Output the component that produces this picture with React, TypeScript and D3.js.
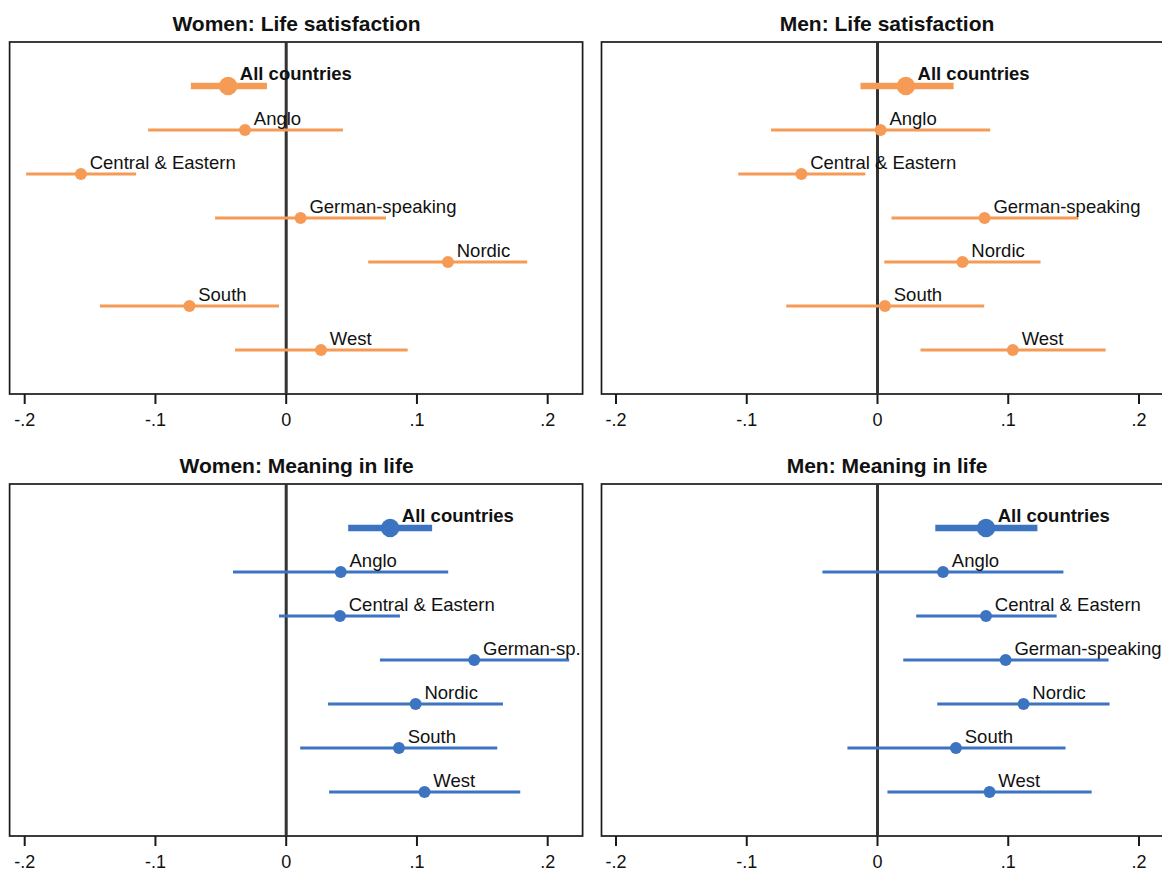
import React from "react";
import * as d3 from "d3";

const regions = ["All countries", "Anglo", "Central & Eastern", "German-speaking", "Nordic", "South", "West"];
const regionsShortGerman = ["All countries", "Anglo", "Central & Eastern", "German-sp.", "Nordic", "South", "West"];

const womenLifeSatEst = [-0.0444, -0.0315, -0.157, 0.011, 0.1237, -0.074, 0.0266];
const womenLifeSatLo = [-0.0729, -0.1056, -0.1989, -0.0544, 0.0627, -0.1425, -0.0391];
const womenLifeSatHi = [-0.0147, 0.0434, -0.1148, 0.0763, 0.1843, -0.0055, 0.0929];

const menLifeSatEst = [0.0217, 0.0024, -0.0582, 0.0819, 0.065, 0.0057, 0.1035];
const menLifeSatLo = [-0.013, -0.0814, -0.1065, 0.0107, 0.0052, -0.0698, 0.0329];
const menLifeSatHi = [0.0582, 0.0862, -0.0093, 0.1537, 0.1247, 0.0816, 0.1745];

const womenMeaningEst = [0.0795, 0.0417, 0.0411, 0.1438, 0.099, 0.0862, 0.1058];
const womenMeaningLo = [0.0474, -0.0407, -0.0055, 0.0717, 0.032, 0.0107, 0.0328];
const womenMeaningHi = [0.1116, 0.1239, 0.087, 0.2164, 0.1658, 0.1614, 0.179];

const menMeaningEst = [0.083, 0.0501, 0.083, 0.098, 0.1117, 0.06, 0.0857];
const menMeaningLo = [0.0442, -0.0421, 0.0296, 0.0197, 0.0457, -0.023, 0.0076];
const menMeaningHi = [0.1223, 0.1422, 0.137, 0.1767, 0.1775, 0.1438, 0.1638];

const xTicks = [-0.2, -0.1, 0, 0.1, 0.2];
const xTickLabels = ["-.2", "-.1", "0", ".1", ".2"];

const ORANGE = "#F69B56";
const BLUE = "#3D74C2";
const FONT = "'Liberation Sans', Arial, Helvetica, sans-serif";

type Panel = {
  title: string;
  labels: string[];
  est: number[];
  lo: number[];
  hi: number[];
  color: string;
  col: number;
  row: number;
};

const panels: Panel[] = [
  { title: "Women: Life satisfaction", labels: regions, est: womenLifeSatEst, lo: womenLifeSatLo, hi: womenLifeSatHi, color: ORANGE, col: 0, row: 0 },
  { title: "Men: Life satisfaction", labels: regions, est: menLifeSatEst, lo: menLifeSatLo, hi: menLifeSatHi, color: ORANGE, col: 1, row: 0 },
  { title: "Women: Meaning in life", labels: regionsShortGerman, est: womenMeaningEst, lo: womenMeaningLo, hi: womenMeaningHi, color: BLUE, col: 0, row: 1 },
  { title: "Men: Meaning in life", labels: regions, est: menMeaningEst, lo: menMeaningLo, hi: menMeaningHi, color: BLUE, col: 1, row: 1 },
];

// layout
const colLayout = [
  { frameL: 9.6, frameR: 582.6, xMinus: 24.7, xPlus: 547.7, titleX: 296.5 },
  { frameL: 601.5, frameR: 1174, xMinus: 616, xPlus: 1139, titleX: 887 },
];
const rowOffset = 442;
const frameTop0 = 42;
const frameBottom0 = 394;

function PanelView({ p }: { p: Panel }) {
  const c = colLayout[p.col];
  const dy = p.row * rowOffset;
  const top = frameTop0 + dy;
  const bottom = frameBottom0 + dy;
  const x = d3.scaleLinear().domain([-0.2, 0.2]).range([c.xMinus, c.xPlus]);
  const y = d3.scaleLinear().domain([-1, 7]).range([top, bottom]);
  return (
    <g>
      <text x={c.titleX} y={top - 11.5} textAnchor="middle" fontFamily={FONT} fontWeight="bold" fontSize={21} fill="#111">
        {p.title}
      </text>
      <rect x={c.frameL} y={top} width={c.frameR - c.frameL} height={bottom - top} fill="none" stroke="#1a1a1a" strokeWidth={1.7} />
      <line x1={x(0)} x2={x(0)} y1={top} y2={bottom} stroke="#333" strokeWidth={3} />
      {xTicks.map((t, i) => (
        <g key={i}>
          <line x1={x(t)} x2={x(t)} y1={bottom} y2={bottom + 10} stroke="#1a1a1a" strokeWidth={2} />
          <text x={x(t)} y={bottom + 32} textAnchor="middle" fontFamily={FONT} fontSize={18} fill="#111">
            {xTickLabels[i]}
          </text>
        </g>
      ))}
      {p.est.map((v, i) => {
        const isAll = i === 0;
        const yy = y(i);
        return (
          <g key={i}>
            <line x1={x(p.lo[i])} x2={x(p.hi[i])} y1={yy} y2={yy} stroke={p.color} strokeWidth={isAll ? 6.5 : 2.8} />
            <circle cx={x(v)} cy={yy} r={isAll ? 9.2 : 6} fill={p.color} />
            <text
              x={x(v) + (isAll ? 11.7 : 8.8)}
              y={yy - (isAll ? 6 : 5)}
              fontFamily={FONT}
              fontSize={18.5}
              fontWeight={isAll ? "bold" : "normal"}
              fill="#111"
            >
              {p.labels[i]}
            </text>
          </g>
        );
      })}
    </g>
  );
}

export default function App() {
  return (
    <svg
      width={1162}
      height={870}
      viewBox="0 0 1162 870"
      style={{ position: "absolute", left: 0, top: 0, background: "#fff", display: "block" }}
    >
      <rect x={0} y={0} width={1162} height={870} fill="#fff" />
      {panels.map((p, i) => (
        <PanelView key={i} p={p} />
      ))}
    </svg>
  );
}
